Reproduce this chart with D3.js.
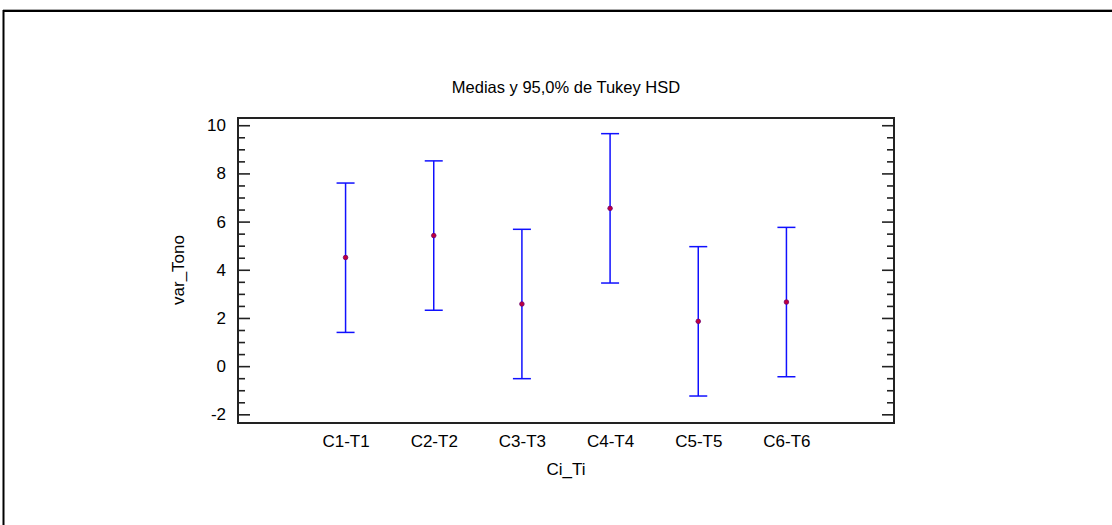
<!DOCTYPE html>
<html>
<head>
<meta charset="utf-8">
<script src="https://cdn.jsdelivr.net/npm/d3@7"></script>
<style>
  html, body { margin: 0; padding: 0; background: #fff; }
  svg { display: block; }
  text { font-family: "Liberation Sans", Arial, sans-serif; fill: #000; }
</style>
</head>
<body>
<script>
// Tukey HSD intervals (95%) for var_Tono by Ci_Ti group
const categories = ["C1-T1", "C2-T2", "C3-T3", "C4-T4", "C5-T5", "C6-T6"];
const means = [4.51, 5.42, 2.58, 6.55, 1.86, 2.66];
const lower = [1.40, 2.32, -0.52, 3.45, -1.24, -0.44];
const upper = [7.60, 8.52, 5.68, 9.65, 4.96, 5.76];
const yTickValues = [-2, 0, 2, 4, 6, 8, 10];
const titleText = "Medias y 95,0% de Tukey HSD";
const xLabel = "Ci_Ti";
const yLabel = "var_Tono";

const W = 1112, H = 525;
const plot = { left: 238, right: 894, top: 118, bottom: 423 };

const svg = d3.select("body").append("svg")
  .attr("width", W).attr("height", H);

// outer frame
svg.append("line").attr("x1", 3).attr("x2", W + 5).attr("y1", 9.5).attr("y2", 9.5)
  .attr("stroke", "#aaa").attr("stroke-width", 1);
svg.append("rect").attr("x", 3.5).attr("y", 11).attr("width", W + 20).attr("height", H + 20)
  .attr("fill", "none").attr("stroke", "#000").attr("stroke-width", 2);

const x = d3.scaleLinear().domain([-1.22, 6.22]).range([plot.left, plot.right]);
const y = d3.scaleLinear().domain([-2.36, 10.3]).range([plot.bottom, plot.top]);

// minor ticks every 0.5, major every 2
const minorTicks = d3.range(-2, 10.01, 0.5);
const isMajor = d => Math.abs(d - Math.round(d / 2) * 2) < 1e-6;

// left axis: inward ticks
const gL = svg.append("g").attr("transform", `translate(${plot.left},0)`)
  .call(d3.axisRight(y).tickValues(minorTicks).tickSize(0).tickFormat(""));
gL.select(".domain").remove();
gL.selectAll(".tick line")
  .attr("x2", d => isMajor(d) ? 12 : 7)
  .attr("stroke", "#222").attr("stroke-width", 1.6);

// left axis labels (plain hyphen for negatives)
const gLab = svg.append("g").attr("transform", `translate(${plot.left},0)`)
  .call(d3.axisLeft(y).tickValues(yTickValues).tickSize(0).tickPadding(12)
    .tickFormat(d => String(d)));
gLab.select(".domain").remove();
gLab.selectAll(".tick text")
  .style("font-family", "'Liberation Sans', Arial, sans-serif")
  .style("font-size", "17px").attr("fill", "#000");

// right axis: inward ticks only
const gR = svg.append("g").attr("transform", `translate(${plot.right},0)`)
  .call(d3.axisLeft(y).tickValues(minorTicks).tickSize(0).tickFormat(""));
gR.select(".domain").remove();
gR.selectAll(".tick line")
  .attr("x2", d => isMajor(d) ? -12 : -7)
  .attr("stroke", "#222").attr("stroke-width", 1.6);

// category labels along the bottom
const gB = svg.append("g").attr("transform", `translate(0,${plot.bottom})`)
  .call(d3.axisBottom(x).tickValues(d3.range(categories.length))
    .tickSize(0).tickPadding(12).tickFormat(i => categories[i]));
gB.select(".domain").remove();
gB.selectAll(".tick text")
  .style("font-family", "'Liberation Sans', Arial, sans-serif")
  .style("font-size", "17px").attr("fill", "#000");

// plot frame
svg.append("rect")
  .attr("x", plot.left).attr("y", plot.top)
  .attr("width", plot.right - plot.left).attr("height", plot.bottom - plot.top)
  .attr("fill", "none").attr("stroke", "#222").attr("stroke-width", 2);

// error bars with mean markers
const bars = svg.append("g");
categories.forEach((c, i) => {
  const cx = x(i);
  bars.append("line").attr("x1", cx).attr("x2", cx)
    .attr("y1", y(lower[i])).attr("y2", y(upper[i]))
    .attr("stroke", "#1010ff").attr("stroke-width", 1.5);
  [lower[i], upper[i]].forEach(v => {
    bars.append("line").attr("x1", cx - 9).attr("x2", cx + 9)
      .attr("y1", y(v)).attr("y2", y(v))
      .attr("stroke", "#1010ff").attr("stroke-width", 1.5);
  });
  bars.append("circle").attr("cx", cx).attr("cy", y(means[i])).attr("r", 2.3)
    .attr("fill", "#c0003c").attr("stroke", "#700070").attr("stroke-width", 0.8);
});

// titles
svg.append("text").attr("x", (plot.left + plot.right) / 2).attr("y", 93)
  .attr("text-anchor", "middle").style("font-size", "16.5px").text(titleText);
svg.append("text").attr("x", (plot.left + plot.right) / 2).attr("y", 475)
  .attr("text-anchor", "middle").style("font-size", "17px").text(xLabel);
svg.append("text")
  .attr("transform", `translate(184,270) rotate(-90)`)
  .attr("text-anchor", "middle").style("font-size", "17px").text(yLabel);
</script>
</body>
</html>
